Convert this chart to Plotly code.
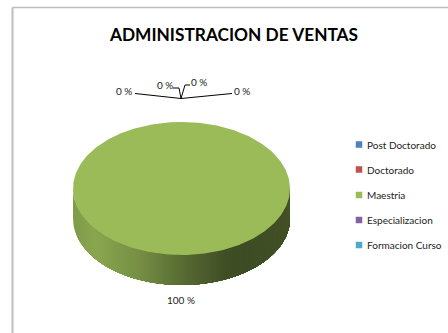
import numpy as np
import plotly.graph_objects as go

title = "ADMINISTRACION DE VENTAS"
categories = ["Post Doctorado", "Doctorado", "Maestria", "Especializacion", "Formacion Curso"]
values = [0, 0, 100, 0, 0]
colors = ["#4F81BD", "#C0504D", "#9BBB59", "#8064A2", "#4BACC6"]

CX, CY, RX, RY, DEPTH = 181.5, 188.5, 108.5, 66.5, 30
W, H = 448, 333

fig = go.Figure()

# pie side: each band runs from its left edge to the right end and is painted over the last
stops_t = [0, 0.1, 0.3, 0.5, 0.7, 0.8, 1]
stops_c = [(128, 155, 74), (137, 166, 79), (118, 143, 68), (88, 107, 51), (64, 78, 37), (62, 76, 36), (66, 80, 38)]
n = 110
for i in range(n):
    t = i / n
    a = np.linspace(np.arccos(1 - 2 * t), 0, 60) * -1 + np.pi
    a = np.pi - np.linspace(np.arccos(1 - 2 * t), np.pi, 60)
    xs = CX + RX * np.cos(a)
    ys = CY + RY * np.sin(a)
    c = [np.interp(t, stops_t, [s[k] for s in stops_c]) for k in range(3)]
    fig.add_trace(go.Scatter(
        x=np.r_[xs, xs[::-1]], y=np.r_[ys, ys[::-1] + DEPTH], mode="lines", fill="toself",
        fillcolor=f"rgb({c[0]:.0f},{c[1]:.0f},{c[2]:.0f})", line=dict(width=0),
        hoverinfo="skip", showlegend=False))

# pie top, slices computed from the values
total = sum(values)
cum = 0
for name, v, col in zip(categories, values, colors):
    if v > 0:
        a = -np.pi / 2 + 2 * np.pi * np.linspace(cum, cum + v, 361) / total
        fig.add_trace(go.Scatter(
            x=CX + RX * np.cos(a), y=CY + RY * np.sin(a), mode="lines", fill="toself",
            fillcolor=col, line=dict(width=0), name=name, hoverinfo="name", showlegend=False))
    cum += v

# leader lines
leaders_x = [[135, 181, 232], [173, 179, 181], [181, 185, 190]]
leaders_y = [[93.5, 98.5, 93.5], [88, 88, 98.5], [98.5, 85, 85]]
for lx, ly in zip(leaders_x, leaders_y):
    fig.add_trace(go.Scatter(x=lx, y=ly, mode="lines", line=dict(color="black", width=1),
                             hoverinfo="skip", showlegend=False))

# legend drawn in place
legend_y = [144.5, 169.5, 195, 220, 245]
fig.add_trace(go.Scatter(x=[359] * 5, y=legend_y, mode="markers", marker=dict(symbol="square", size=6.5, color=colors),
                         hoverinfo="skip", showlegend=False))
for name, y in zip(categories, legend_y):
    fig.add_annotation(x=367, y=y, text=name, showarrow=False, xanchor="left", xshift=-2,
                       font=dict(family="Lato", size=10, color="#222"))

labels = ["0 %", "0 %", "0 %", "0 %", "100 %"]
lab_x = [124, 165, 199, 241.5, 181]
lab_y = [90.5, 85, 82, 90.5, 300]
for s, x, y in zip(labels, lab_x, lab_y):
    fig.add_annotation(x=x, y=y, text=s, showarrow=False, font=dict(family="Lato", size=10, color="#222"))

fig.update_layout(
    width=W, height=H, margin=dict(l=0, r=0, t=0, b=0), showlegend=False,
    paper_bgcolor="white", plot_bgcolor="white",
    title=dict(text=f"<b>{title}</b>", x=234 / W, xanchor="center", y=1 - 35 / H, yanchor="middle",
               font=dict(family="Lato", size=17.3, color="black")),
    xaxis=dict(range=[0, W], visible=False, fixedrange=True),
    yaxis=dict(range=[H, 0], visible=False, fixedrange=True),
    shapes=[
        dict(type="line", xref="paper", yref="paper", x0=12.5 / W, x1=12.5 / W, y0=0, y1=1 - 7.5 / H,
             line=dict(color="#bdbdbd", width=2)),
        dict(type="line", xref="paper", yref="paper", x0=12.5 / W, x1=1, y0=1 - 7.5 / H, y1=1 - 7.5 / H,
             line=dict(color="#bdbdbd", width=1.5)),
    ],
)
fig.write_html("out.html", config={"displayModeBar": False},
               post_script="document.body.style.margin='0';document.documentElement.style.overflow='hidden';")
